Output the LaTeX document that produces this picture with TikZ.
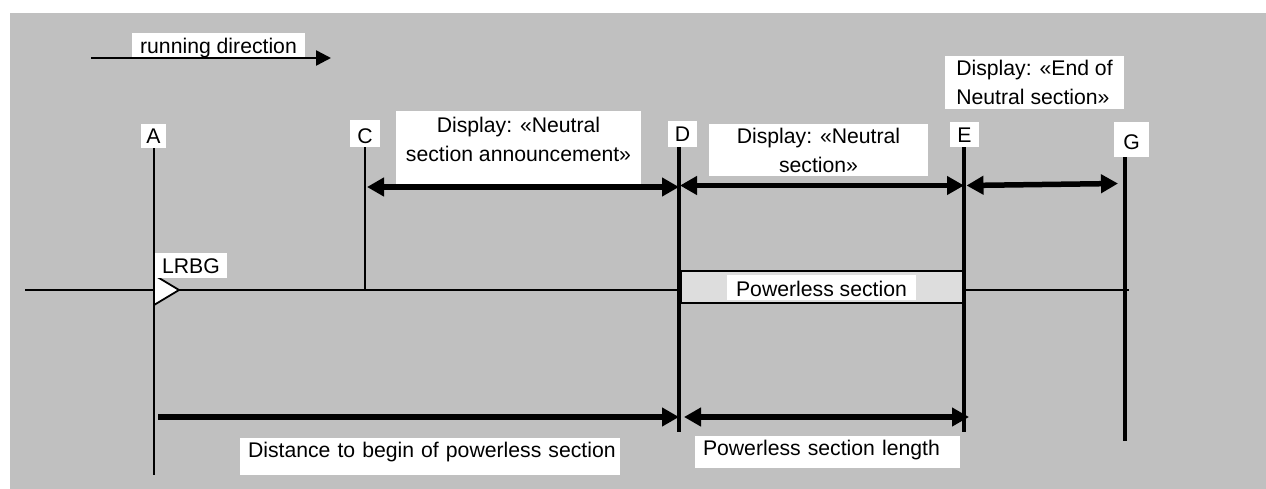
\documentclass[tikz,border=0pt]{standalone}
\usepackage{fontspec}
\setmainfont{Liberation Sans}
\usetikzlibrary{arrows.meta}
\definecolor{bggray}{HTML}{C0C0C0}
\definecolor{pwrgray}{HTML}{DDDDDD}
\begin{document}
\begin{tikzpicture}[x=1pt,y=-1pt,
  every node/.style={font=\fontsize{21.2pt}{29pt}\selectfont, inner sep=0pt, outer sep=0pt},
  wbox/.style={fill=white},
  lbl/.style n args={4}{wbox, minimum width=#1, minimum height=#2, text height=#3, text depth=#4},
  trackline/.style={line width=2pt},
  markthin/.style={line width=2.2pt},
  markthick/.style={line width=4pt},
  runarrow/.style={line width=2.5pt, -{Triangle[length=15pt,width=15pt]}},
  dimone/.style={line width=5.5pt, -{Triangle[length=17pt,width=18pt]}},
  dimboth/.style={line width=5.5pt, {Triangle[length=17pt,width=18pt]}-{Triangle[length=17pt,width=18pt]}}
]
\useasboundingbox (0,0) rectangle (1266,489);
\fill[bggray] (10,13) rectangle (1266,489);

% coordinates
\coordinate (trackL) at (25,290);
\coordinate (trackR) at (1129,290);
\coordinate (Atop) at (154,148);
\coordinate (Abot) at (154,475);
\coordinate (Ctop) at (365,147);
\coordinate (Cbot) at (365,290);
\coordinate (Dtop) at (679,147);
\coordinate (Dbot) at (679,432);
\coordinate (Etop) at (964,147);
\coordinate (Ebot) at (964,432);
\coordinate (Gtop) at (1125,157);
\coordinate (Gbot) at (1125,441);
\coordinate (runL) at (91,58);
\coordinate (runR) at (331,58);
\coordinate (cdL) at (367,187);
\coordinate (cdR) at (679,187);
\coordinate (deL) at (680,185.5);
\coordinate (deR) at (964,185.5);
\coordinate (egL) at (966.5,185.5);
\coordinate (egR) at (1118,183.5);
\coordinate (adL) at (158,417);
\coordinate (adR) at (679,417);
\coordinate (lenL) at (684,417);
\coordinate (lenR) at (969,417);

% track
\draw[trackline] (trackL) -- (trackR);
\node[draw, fill=pwrgray, line width=2pt, minimum width=282pt, minimum height=32pt] (psec) at (822,287) {};

% vertical markers
\draw[markthin] (Atop) -- (Abot);
\draw[markthin] (Ctop) -- (Cbot);
\draw[markthick] (Dtop) -- (Dbot);
\draw[markthick] (Etop) -- (Ebot);
\draw[markthick] (Gtop) -- (Gbot);

% LRBG balise
\draw[line width=1.8pt, fill=white, line join=miter] (154,275) -- (179,290) -- (154,305) -- cycle;

% labels
\node[lbl={173pt}{24pt}{16.6pt}{0pt}] (run) at (218.5,45) {running direction};
\node[lbl={25pt}{24pt}{16pt}{0pt}] (labA) at (153.5,136) {A};
\node[lbl={30pt}{27pt}{20pt}{0pt}] (labC) at (365,133.5) {C};
\node[lbl={29pt}{26pt}{15.4pt}{0pt}] (labD) at (682.5,134) {D};
\node[lbl={29pt}{25pt}{16.4pt}{0pt}] (labE) at (964.5,134.5) {E};
\node[lbl={35pt}{35pt}{21pt}{0pt}] (labG) at (1131.5,139.5) {G};
\node[lbl={72pt}{25pt}{15pt}{0pt}] (lrbg) at (191,265.5) {LRBG};
\node[lbl={189pt}{25pt}{17pt}{0pt}] (pwrlbl) at (821.5,287.5) {Powerless section};
\node[wbox, minimum height=37pt, text width=364pt, inner xsep=8pt, align=left, text height=15pt, text depth=13pt] (dist) at (430,456.5) {\mbox{Distance to begin of powerless section}};
\node[wbox, minimum height=32pt, text width=249pt, inner xsep=8pt, align=left, text height=15pt, text depth=9pt] (plen) at (827.5,452) {\mbox{Powerless section length}};

\node[wbox, minimum width=245pt, minimum height=73pt] (annCbox) at (518.5,147.5) {};
\node[align=center] (annC) at (518.5,139) {Display: «Neutral\\section announcement»};
\node[wbox, minimum width=219pt, minimum height=52pt, align=center] (annN) at (818.5,150) {Display: «Neutral\\section»};
\node[wbox, minimum width=179pt, minimum height=53pt, align=left] (annEnd) at (1034.5,82.5) {Display: «End of\\Neutral section»};

% arrows
\draw[runarrow] (runL) -- (runR);
\draw[dimboth] (cdL) -- (cdR);
\draw[dimboth] (deL) -- (deR);
\draw[dimboth] (egL) -- (egR);
\draw[dimone] (adL) -- (adR);
\draw[dimboth] (lenL) -- (lenR);
\end{tikzpicture}
\end{document}
